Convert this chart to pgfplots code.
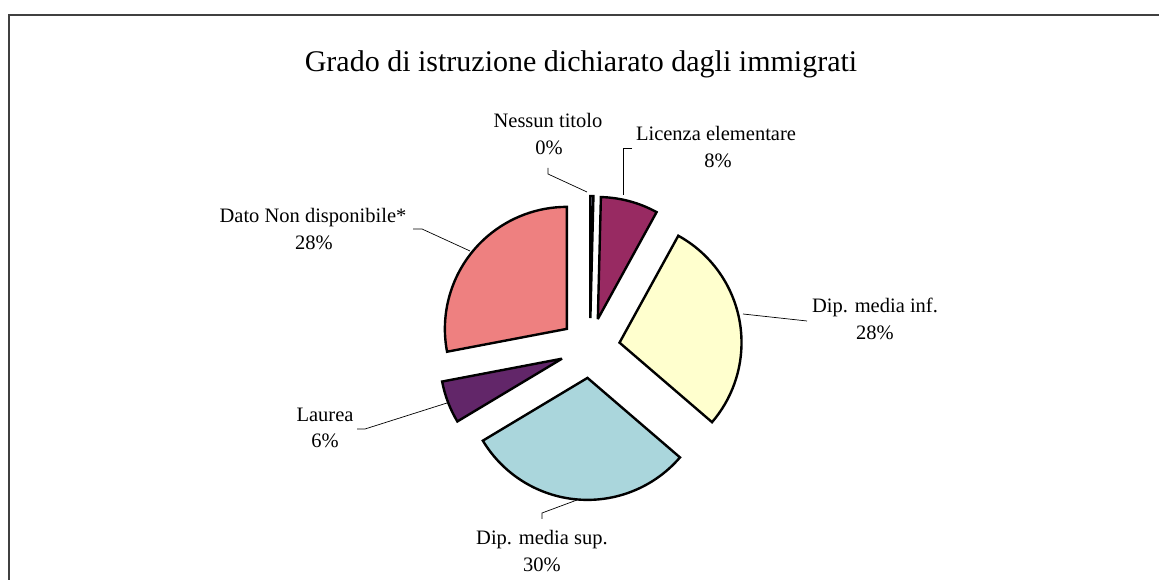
\documentclass[border=0pt]{standalone}
\usepackage{pgfplots}
\usepackage{pgfplotstable}
\pgfplotsset{compat=1.18}
\usepackage{fontspec}
\setmainfont{Liberation Serif}

\definecolor{cNes}{RGB}{200,200,235}
\definecolor{cLic}{RGB}{152,42,98}
\definecolor{cInf}{RGB}{255,255,206}
\definecolor{cSup}{RGB}{170,214,220}
\definecolor{cLau}{RGB}{98,38,105}
\definecolor{cDat}{RGB}{238,128,128}

\pgfplotstableread{
label value col
Nessun 0.4 cNes
Licenza 7.6 cLic
Inf 28.3 cInf
Sup 30.1 cSup
Laurea 5.6 cLau
Dato 28.0 cDat
}\pietable

\newcommand{\lblfont}{\fontsize{20.5bp}{26bp}\selectfont}
\newcommand{\ttlfont}{\fontsize{30bp}{36bp}\selectfont}

\begin{document}
\begin{tikzpicture}
\begin{axis}[
  scale only axis, width=1159bp, height=580bp,
  xmin=0, xmax=1159, ymin=0, ymax=580,
  hide axis, clip=false,
]
% frame (top and left edges)
\addplot[line width=1.3bp, black!75, mark=none] coordinates {(9,0) (9,565) (1159,565)};

% pie slices
\def\cum{0}
\pgfplotsforeachungrouped \i in {0,...,5}{%
  \pgfplotstablegetelem{\i}{value}\of\pietable \let\sVal=\pgfplotsretval
  \pgfplotstablegetelem{\i}{col}\of\pietable \let\sCol=\pgfplotsretval
  \pgfmathsetmacro{\sA}{90-3.6*\cum}%
  \pgfmathsetmacro{\sB}{90-3.6*(\cum+\sVal)}%
  \pgfmathsetmacro{\sM}{(\sA+\sB)/2}%
  \pgfmathsetmacro{\sX}{590+30*cos(\sM)}%
  \pgfmathsetmacro{\sY}{232+30*sin(\sM)}%
  \edef\temp{\noexpand\filldraw[fill=\sCol, draw=black, line width=2.4bp, line join=miter, miter limit=4]
     (axis cs:\sX,\sY) -- ++(\sA:122bp) arc[start angle=\sA, end angle=\sB, radius=122bp] -- cycle;}%
  \temp
  \pgfmathsetmacro{\cum}{\cum+\sVal}%
}

% leader lines
\addplot[black, line width=0.7bp, mark=none] coordinates {(548,412) (548,406) (587,388)};
\addplot[black, line width=0.7bp, mark=none] coordinates {(632,432) (623,432) (623,385)};
\addplot[black, line width=0.7bp, mark=none] coordinates {(413,351) (422,351) (470,329)};
\addplot[black, line width=0.7bp, mark=none] coordinates {(807,259) (743,266)};
\addplot[black, line width=0.7bp, mark=none] coordinates {(357,151) (365,151) (447,177)};
\addplot[black, line width=0.7bp, mark=none] coordinates {(542,61) (542,67) (577,80)};

% title
\node[anchor=base, inner sep=0pt] at (axis cs:581,508) {\ttlfont Grado di istruzione dichiarato dagli immigrati};

% labels
\node[anchor=base, inner sep=0pt] at (axis cs:548,452) {\lblfont Nessun titolo};
\node[anchor=base, inner sep=0pt] at (axis cs:549,425) {\lblfont 0\%};
\node[anchor=base, inner sep=0pt] at (axis cs:716,439) {\lblfont Licenza elementare};
\node[anchor=base, inner sep=0pt] at (axis cs:718,412) {\lblfont 8\%};
\node[anchor=base, inner sep=0pt] at (axis cs:313,357) {\lblfont Dato Non disponibile*};
\node[anchor=base, inner sep=0pt] at (axis cs:314,330) {\lblfont 28\%};
\node[anchor=base, inner sep=0pt] at (axis cs:875,267) {\lblfont Dip. media inf.};
\node[anchor=base, inner sep=0pt] at (axis cs:875,240) {\lblfont 28\%};
\node[anchor=base, inner sep=0pt] at (axis cs:325,158) {\lblfont Laurea};
\node[anchor=base, inner sep=0pt] at (axis cs:325,132) {\lblfont 6\%};
\node[anchor=base, inner sep=0pt] at (axis cs:542,35) {\lblfont Dip. media sup.};
\node[anchor=base, inner sep=0pt] at (axis cs:542,8) {\lblfont 30\%};
\end{axis}
\pgfresetboundingbox
\path[use as bounding box] (current axis.south west) rectangle (current axis.north east);
\end{tikzpicture}
\end{document}
